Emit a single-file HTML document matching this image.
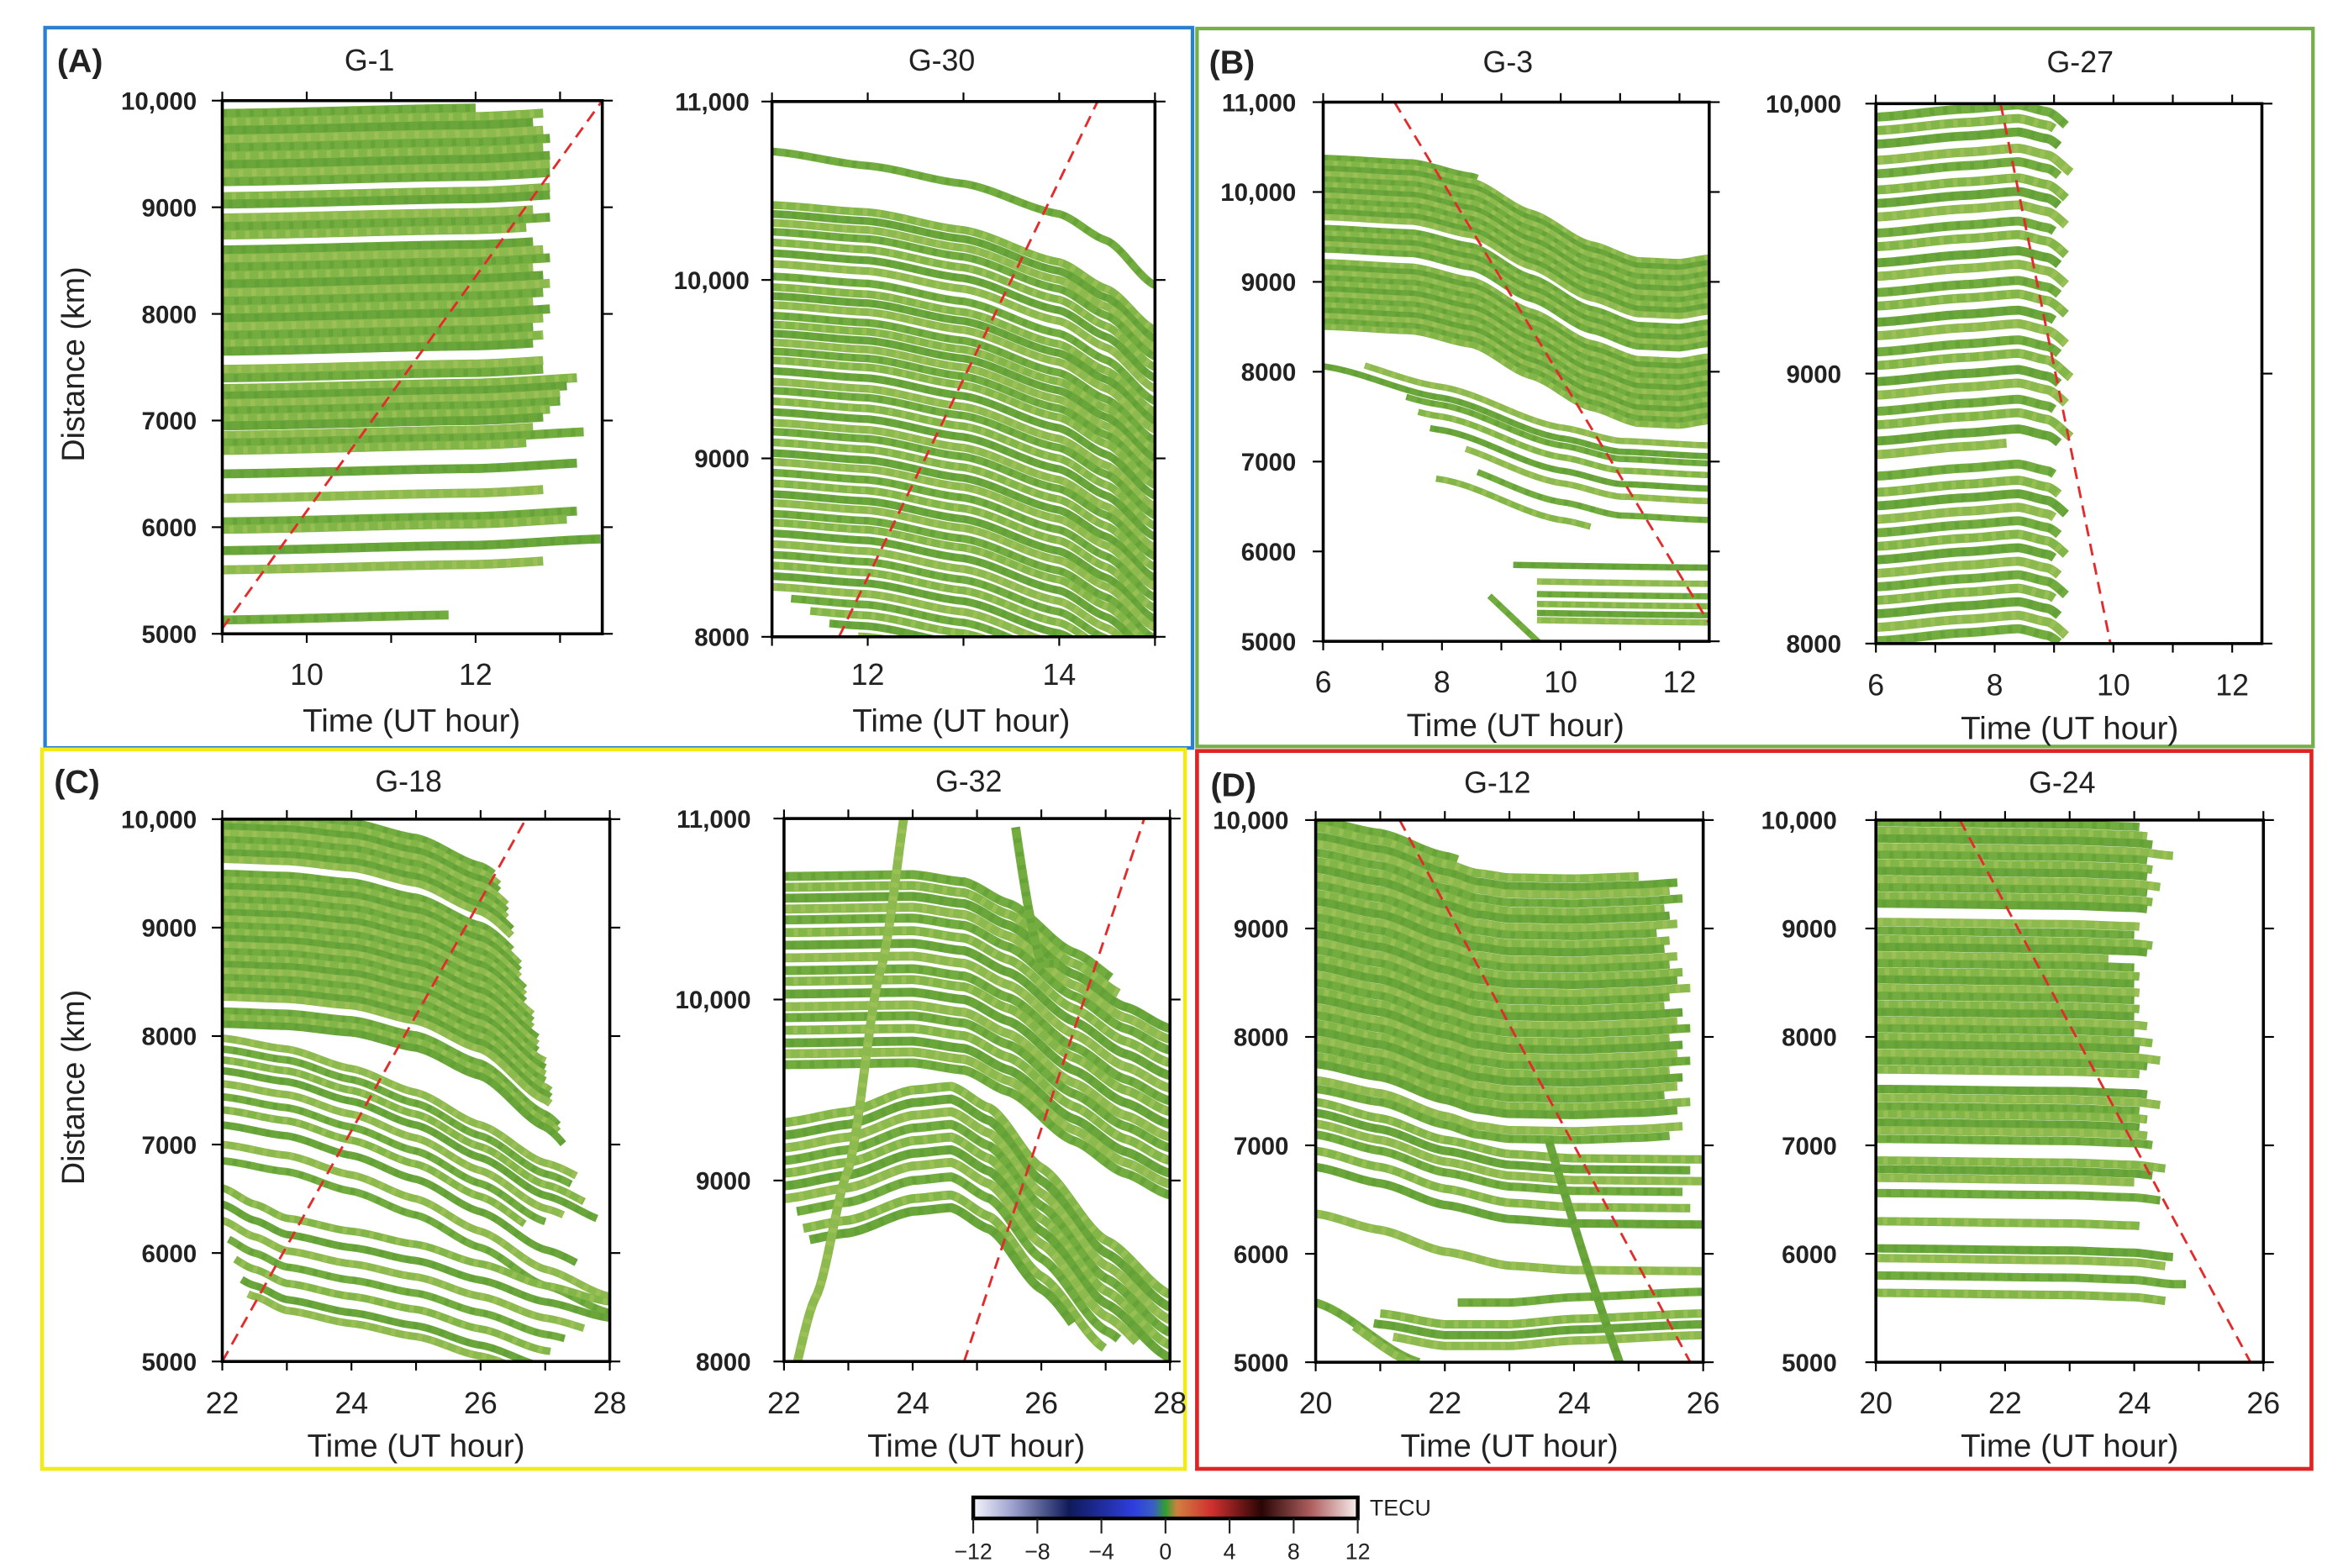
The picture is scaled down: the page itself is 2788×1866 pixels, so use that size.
<!DOCTYPE html>
<html><head><meta charset="utf-8"><title>TEC travel-time diagrams</title>
<style>
html,body{margin:0;padding:0;background:#fff;}
svg{display:block;}
text{font-family:"Liberation Sans",sans-serif;fill:#222;}
</style></head>
<body>
<svg id="fig" xmlns="http://www.w3.org/2000/svg" width="2788" height="1866" viewBox="0 0 1560 1044" preserveAspectRatio="none">
<defs>
<linearGradient id="cbar" x1="0" x2="1" y1="0" y2="0">
<stop offset="0" stop-color="#f4f4fb"/><stop offset="0.1" stop-color="#9fa3d0"/><stop offset="0.25" stop-color="#101a5a"/><stop offset="0.42" stop-color="#2f3fe0"/><stop offset="0.47" stop-color="#3a60c0"/><stop offset="0.5" stop-color="#30a030"/><stop offset="0.53" stop-color="#d08040"/><stop offset="0.62" stop-color="#d03030"/><stop offset="0.75" stop-color="#2a0505"/><stop offset="0.88" stop-color="#b06060"/><stop offset="1" stop-color="#f8eeee"/>
</linearGradient>
</defs>
<rect x="30" y="18.4" width="764" height="479.6" fill="none" stroke="#2b7fd0" stroke-width="2.4"/>
<rect x="797" y="19" width="743" height="478" fill="none" stroke="#74b04a" stroke-width="2.4"/>
<rect x="28" y="499" width="761" height="479" fill="none" stroke="#f2ea1a" stroke-width="2.6"/>
<rect x="797" y="500" width="742" height="478" fill="none" stroke="#e02424" stroke-width="2.6"/>
<text x="38" y="48" font-size="22" font-weight="bold">(A)</text>
<text x="805" y="49" font-size="22" font-weight="bold">(B)</text>
<text x="36" y="528" font-size="22" font-weight="bold">(C)</text>
<text x="806" y="530" font-size="22" font-weight="bold">(D)</text>
<g id="plots"></g>
<g>
<rect x="648" y="997" width="256" height="14" fill="url(#cbar)" stroke="#000" stroke-width="2.5"/>
<text x="912" y="1009" font-size="15">TECU</text>
<g id="cbticks"></g>
</g>
</svg>
<script>
// ---------- data ----------
const cbTickValues=[-12,-8,-4,0,4,8,12];

const g1Tpl=[[9,0],[12,50],[13.5,110]];
const g1Tracks=[[9880,9,12.0],[9800,9,12.8],[9720,9,12.7],[9640,9,12.8],[9560,9,12.9],[9480,9,12.8],[9400,9,12.9],[9320,9,12.9],[9240,9,12.9],[9100,9,12.9],[9030,9,12.9],[8900,9,12.7],[8820,9,12.9],[8740,9,12.6],[8600,9,12.7],[8520,9,12.8],[8440,9,12.9],[8360,9,12.7],[8280,9,12.8],[8200,9,12.9],[8120,9,12.8],[8040,9,12.7],[7960,9,12.9],[7880,9,12.8],[7800,9,12.7],[7720,9,12.8],[7650,9,12.7],[7480,9,12.8],[7400,9,12.8],[7300,9,13.2],[7230,9,13.1],[7160,9,13.0],[7090,9,13.0],[7020,9,12.9],[6950,9,12.8],[6860,9,12.7],[6790,9,13.3],[6720,9,12.6],[6500,9,13.2],[6270,9,12.8],[6050,9,13.2],[5980,9,13.1],[5780,9,13.5],[5600,9,12.8],[5130,9,11.7]];
const g1Dash=[[9,5050],[13.5,10000]];

const g30TplTop=[[11,0],[12,-80],[13,-180],[14,-350],[14.5,-500],[15,-750]];
const g30TracksTop=[[10720,11,15]];
const g30Tpl=[[11,0],[12,-40],[13,-140],[14,-320],[14.5,-470],[15,-700]];
const g30Tracks=[[10420,11,15],[10370,11,15],[10320,11,15],[10270,11,15],[10210,11,15],[10150,11,15],[10090,11,15],[10020,11,15],[9960,11,15],[9910,11,15],[9860,11,15],[9800,11,15],[9750,11,15],[9700,11,15],[9650,11,15],[9600,11,15],[9550,11,15],[9490,11,15],[9430,11,15],[9380,11,15],[9320,11,15],[9260,11,15],[9200,11,15],[9150,11,15],[9090,11,15],[9030,11,15],[8980,11,15],[8920,11,15],[8860,11,15],[8800,11,15],[8750,11,15],[8690,11,15],[8640,11,15],[8580,11,15],[8520,11,15],[8460,11,15],[8400,11,15],[8340,11,15],[8280,11,15],[8220,11.2,15],[8160,11.4,15],[8100,11.6,15],[8040,11.9,15],[7980,12.2,15],[7920,12.6,15]];
const g30Dash=[[11.7,8000],[14.4,11000]];

const g3TplA=[[6,0],[7.5,-50],[8.5,-200],[9.5,-550],[10.5,-900],[11.3,-1080],[12,-1100],[12.5,-1050]];
const g3TracksA=[[10380,6,8.6],[10320,6,12.5],[10260,6,12.5],[10200,6,12.5],[10140,6,12.5],[10080,6,12.5],[10020,6,12.5],[9960,6,12.5],[9900,6,12.5],[9840,6,12.5],[9780,6,12.5],[9720,6,12.5],[9600,6,12.5],[9540,6,12.5],[9480,6,12.5],[9420,6,12.5],[9360,6,12.5],[9220,6,12.5],[9160,6,12.5],[9100,6,12.5],[9040,6,12.5],[8980,6,12.5],[8920,6,12.5],[8860,6,12.5],[8800,6,12.5],[8740,6,12.5],[8680,6,12.5],[8620,6,12.5],[8560,6,12.5],[8500,6,12.5]];
const g3TplB=[[6,0],[8,-350],[10,-800],[11,-950],[12.5,-1000]];
const g3TracksB=[[8060,6,12.5],[8180,6.7,12.5],[7980,7.4,12.5],[7850,7.6,12.5],[7700,7.8,12.5],[7560,8.4,12.5],[7350,8.6,12.5],[7150,7.9,10.5]];
const g3TplC=[[6,0],[12.5,-60]];
const g3TracksC=[[5880,9.2,12.5],[5700,9.6,12.5],[5560,9.6,12.5],[5450,9.6,12.5],[5350,9.6,12.5],[5270,9.6,12.5]];
const g3TplD=[[6,0],[12.5,-3250]];
const g3TracksD=[[6850,8.8,10.0]];
const g3Dash=[[7.2,11000],[12.5,5200]];

const g27Tpl=[[6,0],[7.5,30],[8.4,45],[8.9,20],[9.4,-60]];
const g27Tracks=[[9950,6,9.2],[9900,6,9.0],[9850,6,9.1],[9790,6,9.3],[9740,6,9.1],[9680,6,9.2],[9630,6,9.1],[9580,6,9.2],[9520,6,9.0],[9470,6,9.2],[9410,6,9.1],[9360,6,9.2],[9300,6,9.1],[9250,6,9.2],[9190,6,9.0],[9140,6,9.2],[9080,6,9.1],[9030,6,9.3],[8970,6,9.1],[8920,6,9.2],[8860,6,9.0],[8810,6,9.3],[8750,6,9.1],[8700,6,8.2],[8620,6,9.0],[8560,6,9.1],[8510,6,9.2],[8460,6,9.0],[8410,6,9.1],[8360,6,9.2],[8310,6,9.0],[8260,6,9.1],[8210,6,9.2],[8160,6,9.0],[8110,6,9.1],[8060,6,9.2],[8010,6,9.1]];
const g27Dash=[[8.1,10000],[9.95,8000]];

const g18TplA=[[22,0],[23,-20],[24,-80],[25,-220],[26,-480],[27,-950],[28,-1600]];
const g18TracksA=[[10050,22,26.2],[9990,22,26.3],[9930,22,26.3],[9870,22,26.4],[9810,22,26.4],[9750,22,26.4],[9690,22,26.5],[9630,22,26.5],[9500,22,26.5],[9440,22,26.6],[9380,22,26.6],[9320,22,26.6],[9260,22,26.7],[9200,22,26.7],[9140,22,26.7],[9080,22,26.8],[9020,22,26.8],[8960,22,26.8],[8900,22,26.9],[8840,22,26.9],[8780,22,26.9],[8720,22,27.0],[8660,22,27.0],[8600,22,27.0],[8540,22,27.0],[8480,22,27.1],[8420,22,27.1],[8360,22,27.1],[8230,22,27.2],[8170,22,27.2],[8110,22,27.3]];
const g18TplB=[[22,0],[23,-100],[24,-280],[25,-500],[26,-800],[27,-1150],[28,-1400]];
const g18TracksB=[[7980,22,27.5],[7880,22,27.4],[7780,22,27.6],[7680,22,27.8],[7560,22,27.3],[7440,22,27.0],[7320,22,26.7],[7180,22,27.5],[7000,22,28],[6850,22,28]];
const g18TplC=[[22,0],[22.5,-150],[23,-280],[24,-400],[25,-520],[26,-700],[27,-900],[28,-1050]];
const g18TracksC=[[6600,22,28],[6450,22,28],[6300,22,27.6],[6150,22.1,27.3],[6000,22.2,27.1],[5850,22.3,26.9],[5750,22.4,27.5]];
const g18Dash=[[22,5000],[26.7,10000]];

const g32TplA=[[22,0],[24,10],[24.8,-30],[25.5,-150],[26.5,-420],[27.3,-600],[28,-720]];
const g32TracksA=[[10680,22,27.1],[10620,22,27.2],[10560,22,28],[10500,22,28],[10440,22,28],[10370,22,28],[10300,22,28],[10230,22,28],[10160,22,28],[10100,22,28],[10030,22,28],[9960,22,28],[9900,22,28],[9830,22,28],[9760,22,28],[9700,22,28],[9640,22,28]];
const g32TplB=[[22,0],[23,60],[24,180],[24.6,200],[25.2,80],[26,-250],[27,-650],[28,-950]];
const g32TracksB=[[9320,22,28],[9250,22,28],[9180,22,28],[9110,22,28],[9040,22,28],[8970,22,28],[8900,22,27.5],[8820,22.2,27.2],[8720,22.3,27],[8650,22.4,26.5]];
const g32TplC=[[22,0],[22.5,600],[23,1300],[23.5,2400],[24,3500]];
const g32TracksC=[[7760,22.2,23.9]];
const g32TplD=[[25,0],[26,-2000]];
const g32TracksD=[[12200,25.6,26.3]];
const g32Dash=[[24.8,8000],[27.6,11000]];

const g12TplA=[[20,0],[21,-120],[22,-330],[22.5,-420],[23,-460],[24,-470],[25,-450],[25.8,-420]];
const g12TracksA=[[10000,20,22.2],[9930,20,25.0],[9850,20,25.6],[9780,20,25.5],[9700,20,25.7],[9620,20,25.4],[9550,20,25.5],[9470,20,25.6],[9400,20,25.3],[9320,20,25.5],[9250,20,25.4],[9170,20,25.6],[9100,20,25.5],[9020,20,25.7],[8950,20,25.6],[8870,20,25.8],[8800,20,25.5],[8720,20,25.4],[8650,20,25.7],[8570,20,25.6],[8500,20,25.8],[8420,20,25.5],[8350,20,25.7],[8270,20,25.6],[8200,20,25.8],[8120,20,25.5],[8050,20,25.7],[7970,20,25.6],[7900,20,25.4],[7820,20,25.8],[7750,20,25.6],[7600,20,25.7],[7520,20,25.5]];
const g12TplB=[[20,0],[21,-150],[22,-350],[23,-480],[24,-520],[26,-530]];
const g12TracksB=[[7400,20,26],[7300,20,25.8],[7200,20,26],[7100,20,25.7],[6950,20,25.8],[6800,20,26],[6370,20,26]];
const g12TplC=[[20,0],[21,-150],[22,-250],[23,-250],[24,-200],[26,-150]];
const g12TracksC=[[5800,22.2,26],[5600,21,26],[5500,20.9,26],[5400,21.2,26]];
const g12TplD=[[20,0],[21.6,-550]];
const g12TracksD=[[5550,20,21.6],[5520,20.6,21.8]];
const g12TplE=[[20,0],[26,-9900]];
const g12TracksE=[[13240,23.6,25.0]];
const g12Dash=[[21.3,10000],[25.8,5000]];

const g24Tpl=[[20,0],[23,-20],[24,-40],[24.6,-80]];
const g24Tracks=[[9980,20,24.1],[9900,20,24.2],[9830,20,24.3],[9750,20,24.6],[9680,20,24.2],[9600,20,24.3],[9530,20,24.2],[9450,20,24.4],[9380,20,24.2],[9300,20,24.3],[9230,20,24.2],[9060,20,24.1],[8980,20,24.0],[8900,20,24.3],[8830,20,24.2],[8750,20,23.6],[8680,20,24.0],[8600,20,24.1],[8530,20,24.0],[8450,20,24.1],[8380,20,24.0],[8300,20,24.1],[8230,20,24.0],[8150,20,24.2],[8080,20,24.0],[8000,20,24.3],[7930,20,24.1],[7850,20,24.4],[7780,20,24.2],[7700,20,24.1],[7520,20,24.2],[7440,20,24.4],[7360,20,24.1],[7290,20,24.2],[7210,20,24.1],[7140,20,24.2],[7060,20,24.3],[6860,20,24.5],[6780,20,24.3],[6700,20,24.0]];
const g24TracksB=[[6560,20,24.4],[6300,20,24.1],[6050,20,24.6],[5960,20,24.5],[5800,20,24.8],[5640,20,24.5]];
const g24Dash=[[21.3,10000],[25.8,5000]];

// ---------- layout (positions/styles) ----------
const panels=[
 {id:'g1',title:'G-1',px:[148,401,67,422],t:[9,13.5],d:[5000,10000],yt:[5000,6000,7000,8000,9000,10000],xt:[10,12],minor:[9,10,11,12,13],sw:6,groups:[[g1Tpl,g1Tracks]],dash:g1Dash,titleX:246,titleY:47,xlY:456,atY:487,atX:274,gap:17,ylab:true},
 {id:'g30',title:'G-30',px:[514,769,67.6,424],t:[11,15],d:[8000,11000],yt:[8000,9000,10000,11000],xt:[12,14],minor:[11,12,13,14,15],sw:5.2,groups:[[g30TplTop,g30TracksTop],[g30Tpl,g30Tracks]],dash:g30Dash,titleX:627,titleY:47,xlY:456,atY:487,atX:640,gap:15},
 {id:'g3',title:'G-3',px:[881,1138,68,427],t:[6,12.5],d:[5000,11000],yt:[5000,6000,7000,8000,9000,10000,11000],xt:[6,8,10,12],minor:[6,7,8,9,10,11,12],sw:4.2,groups:[[g3TplA,g3TracksA],[g3TplB,g3TracksB],[g3TplC,g3TracksC],[g3TplD,g3TracksD]],dash:g3Dash,titleX:1004,titleY:48,xlY:461,atY:490,atX:1009,gap:18},
 {id:'g27',title:'G-27',px:[1249,1506,69,428.5],t:[6,12.5],d:[8000,10000],yt:[8000,9000,10000],xt:[6,8,10,12],minor:[6,7,8,9,10,11,12],sw:6,groups:[[g27Tpl,g27Tracks]],dash:g27Dash,titleX:1385,titleY:48,xlY:463,atY:492,atX:1378,gap:23},
 {id:'g18',title:'G-18',px:[148,406,545.4,906.5],t:[22,28],d:[5000,10000],yt:[5000,6000,7000,8000,9000,10000],xt:[22,24,26,28],minor:[22,23,24,25,26,27,28],sw:5,groups:[[g18TplA,g18TracksA],[g18TplB,g18TracksB],[g18TplC,g18TracksC]],dash:g18Dash,titleX:272,titleY:527,xlY:941,atY:970,atX:277,gap:17,ylab:true},
 {id:'g32',title:'G-32',px:[522,779,545,906.5],t:[22,28],d:[8000,11000],yt:[8000,9000,10000,11000],xt:[22,24,26,28],minor:[22,23,24,25,26,27,28],sw:6,groups:[[g32TplA,g32TracksA],[g32TplB,g32TracksB],[g32TplC,g32TracksC],[g32TplD,g32TracksD]],dash:g32Dash,titleX:645,titleY:527,xlY:941,atY:970,atX:650,gap:22},
 {id:'g12',title:'G-12',px:[876,1134,546,907],t:[20,26],d:[5000,10000],yt:[5000,6000,7000,8000,9000,10000],xt:[20,22,24,26],minor:[20,21,22,23,24,25,26],sw:5.6,groups:[[g12TplA,g12TracksA],[g12TplB,g12TracksB],[g12TplC,g12TracksC],[g12TplD,g12TracksD],[g12TplE,g12TracksE]],dash:g12Dash,titleX:997,titleY:528,xlY:941,atY:970,atX:1005,gap:18},
 {id:'g24',title:'G-24',px:[1249,1507,546,907],t:[20,26],d:[5000,10000],yt:[5000,6000,7000,8000,9000,10000],xt:[20,22,24,26],minor:[20,21,22,23,24,25,26],sw:5.6,groups:[[g24Tpl,g24Tracks],[g24Tpl,g24TracksB]],dash:g24Dash,titleX:1373,titleY:528,xlY:941,atY:970,atX:1378,gap:26}
];
const trackColors=['#74ad3f','#83b648','#6aa63a','#8cba4e'];
const NS='http://www.w3.org/2000/svg';
function mk(tag,attrs,parent){const e=document.createElementNS(NS,tag);for(const k in attrs)e.setAttribute(k,attrs[k]);parent.appendChild(e);return e;}
function interp(tpl,t){if(t<=tpl[0][0])return tpl[0][1];for(let i=1;i<tpl.length;i++){if(t<=tpl[i][0]){const a=tpl[i-1],b=tpl[i];const u=(t-a[0])/(b[0]-a[0]);const s=u*u*(3-2*u);return a[1]+(b[1]-a[1])*(0.5*u+0.5*s);}}return tpl[tpl.length-1][1];}
function fmt(v){return v>=10000?String(v).replace(/(\d)(?=(\d{3})+$)/g,'$1,'):String(v);}

const root=document.getElementById('plots');
panels.forEach(p=>{
 const [x0,x1,y0,y1]=p.px;
 const X=t=>x0+(t-p.t[0])/(p.t[1]-p.t[0])*(x1-x0);
 const Y=d=>y1-(d-p.d[0])/(p.d[1]-p.d[0])*(y1-y0);
 const g=mk('g',{},root);
 
 
 const defs=mk('defs',{},g);
 const cp=mk('clipPath',{id:'clip-'+p.id},defs);
 mk('rect',{x:x0,y:y0,width:x1-x0,height:y1-y0},cp);
 const data=mk('g',{'clip-path':'url(#clip-'+p.id+')'},g);
 
 
 let idx=0;
 p.groups.forEach(([tpl,tracks])=>{
  tracks.forEach(tr=>{
   const [d0,t0,t1]=tr;
   let pts=[];
   for(let t=t0;t<=t1+1e-6;t+=0.04){pts.push(X(t).toFixed(2)+','+Y(d0+interp(tpl,t)).toFixed(2));}
   const dstr='M'+pts.join('L');
   const base=mk('path',{d:dstr,fill:'none',stroke:trackColors[idx%4],'stroke-width':p.sw},data);
   
   
   const tex=mk('path',{d:dstr,fill:'none',stroke:idx%2?'#a6c45c':'#5e9e35','stroke-width':p.sw*0.8,'stroke-dasharray':'3 6','stroke-dashoffset':(idx*2.3)%9,opacity:0.6},data);
   
   
   idx++;
  });
 });
 const dl=mk('line',{x1:X(p.dash[0][0]),y1:Y(p.dash[0][1]),x2:X(p.dash[1][0]),y2:Y(p.dash[1][1]),stroke:'#e42a2a','stroke-width':1.6,'stroke-dasharray':'8 5'},data);
 
 
 const fr=mk('rect',{x:x0,y:y0,width:x1-x0,height:y1-y0,fill:'none',stroke:'#000','stroke-width':2},g);
 
 
 p.minor.forEach(t=>{
  const tk1=mk('line',{x1:X(t),x2:X(t),y1:y0,y2:y0-6,stroke:'#000','stroke-width':1.2},g);
  
  
  const tk2=mk('line',{x1:X(t),x2:X(t),y1:y1,y2:y1+6,stroke:'#000','stroke-width':1.2},g);
  
  
 });
 p.xt.forEach(t=>{
  const lb=mk('text',{x:X(t),y:p.xlY,'font-size':20,'text-anchor':'middle'},g);
  lb.textContent=String(t);
  
  
 });
 p.yt.forEach(d=>{
  const tl=mk('line',{x1:x0-7,x2:x0,y1:Y(d),y2:Y(d),stroke:'#000','stroke-width':1.2},g);
  
  
  const tr=mk('line',{x1:x1,x2:x1+7,y1:Y(d),y2:Y(d),stroke:'#000','stroke-width':1.2},g);
  
  
  const lb=mk('text',{x:x0-p.gap,y:Y(d)+6,'font-size':16.5,'font-weight':'bold','text-anchor':'end'},g);
  lb.textContent=fmt(d);
  
  
 });
 const tt=mk('text',{x:p.titleX,y:p.titleY,'font-size':20,'text-anchor':'middle'},g);
 tt.textContent=p.title;
 
 
 const at=mk('text',{x:p.atX,y:p.atY,'font-size':21,'text-anchor':'middle',textLength:145,lengthAdjust:'spacingAndGlyphs'},g);
 at.textContent='Time (UT hour)';
 
 
 if(p.ylab){
  const cy=(y0+y1)/2-2;
  const yl=mk('text',{x:0,y:0,'font-size':21,'text-anchor':'middle',textLength:130,lengthAdjust:'spacingAndGlyphs',transform:'translate(56,'+cy+') rotate(-90)'},g);
  yl.textContent='Distance (km)';
  
  
 }
});
// colorbar ticks
const cbg=document.getElementById('cbticks');
cbTickValues.forEach(v=>{
 const x=648+(v+12)/24*256;
 const l=mk('line',{x1:x,x2:x,y1:1011,y2:1021,stroke:'#222','stroke-width':1.2},cbg);
 
 
 const t=mk('text',{x:x,y:1038,'font-size':15,'text-anchor':'middle'},cbg);
 t.textContent=v<0?'\u2212'+Math.abs(v):String(v);
 
 
});
</script>
</body></html>
